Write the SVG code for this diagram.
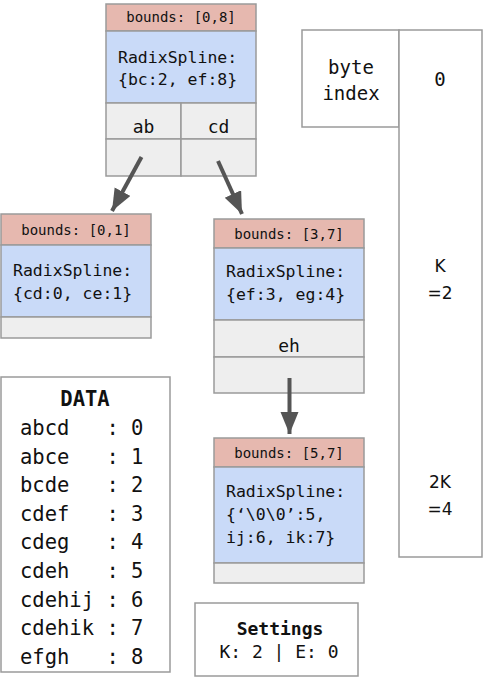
<svg xmlns="http://www.w3.org/2000/svg" width="484" height="678" viewBox="0 0 484 678">
<style>
rect{stroke:#9a9a9a;stroke-width:1.5}
.hd{fill:#e6b8af}
.bl{fill:#c9daf8}
.gr{fill:#eeeeee}
.wh{fill:#ffffff}
text{font-family:"DejaVu Sans Mono","Liberation Mono",monospace;fill:#111}
.sm{font-size:14px}
.md{font-size:16.5px}
.lg{font-size:18px}
.dt{font-size:20.5px}
.ss{font-family:"DejaVu Sans","Liberation Sans",sans-serif;font-size:17px}
.c{text-anchor:middle}
.b{font-weight:bold}
.conn{stroke:#555;stroke-width:4;fill:none}
</style>
<defs>
<marker id="ah" markerUnits="userSpaceOnUse" markerWidth="24" markerHeight="20" refX="22" refY="9" orient="auto">
<path d="M0,0 L22,9 L0,18 Z" fill="#555"/>
</marker>
</defs>
<rect width="484" height="678" fill="#fff" style="stroke:none"/>

<g id="node-root">
<rect class="hd" x="106" y="4" width="150" height="27"/>
<rect class="bl" x="106" y="31" width="150" height="72"/>
<rect class="gr" x="106" y="103" width="75" height="36"/>
<rect class="gr" x="181" y="103" width="75" height="36"/>
<rect class="gr" x="106" y="139" width="75" height="37"/>
<rect class="gr" x="181" y="139" width="75" height="37"/>
<text class="sm c" x="181" y="22">bounds: [0,8]</text>
<text class="md" x="118" y="63">RadixSpline:</text>
<text class="md" x="118" y="85">{bc:2, ef:8}</text>
<text class="lg c" x="143.5" y="133">ab</text>
<text class="lg c" x="218.5" y="133">cd</text>
</g>

<g id="node-left">
<rect class="hd" x="1" y="214" width="150" height="31"/>
<rect class="bl" x="1" y="245" width="150" height="72"/>
<rect class="gr" x="1" y="317" width="150" height="21"/>
<text class="sm c" x="76" y="235">bounds: [0,1]</text>
<text class="md" x="13" y="276">RadixSpline:</text>
<text class="md" x="13" y="299">{cd:0, ce:1}</text>
</g>

<g id="node-mid">
<rect class="hd" x="214" y="219" width="150" height="29"/>
<rect class="bl" x="214" y="248" width="150" height="72"/>
<rect class="gr" x="214" y="320" width="150" height="37"/>
<rect class="gr" x="214" y="357" width="150" height="36"/>
<text class="sm c" x="289" y="239">bounds: [3,7]</text>
<text class="md" x="226" y="277">RadixSpline:</text>
<text class="md" x="226" y="300">{ef:3, eg:4}</text>
<text class="lg c" x="289" y="352">eh</text>
</g>

<g id="node-leaf">
<rect class="hd" x="214" y="438" width="150" height="29"/>
<rect class="bl" x="214" y="467" width="150" height="96"/>
<rect class="gr" x="214" y="563" width="150" height="20"/>
<text class="sm c" x="289" y="458">bounds: [5,7]</text>
<text class="md" x="226" y="497">RadixSpline:</text>
<text class="md" x="226" y="520">{‘\0\0’:5,</text>
<text class="md" x="226" y="543">ij:6, ik:7}</text>
</g>

<g id="data">
<rect class="wh" x="1" y="377" width="169" height="295"/>
<text class="dt c b" x="85" y="406">DATA</text>
<text class="dt" x="20" y="435" xml:space="preserve">abcd   : 0</text>
<text class="dt" x="20" y="463.6" xml:space="preserve">abce   : 1</text>
<text class="dt" x="20" y="492.2" xml:space="preserve">bcde   : 2</text>
<text class="dt" x="20" y="520.8" xml:space="preserve">cdef   : 3</text>
<text class="dt" x="20" y="549.4" xml:space="preserve">cdeg   : 4</text>
<text class="dt" x="20" y="578" xml:space="preserve">cdeh   : 5</text>
<text class="dt" x="20" y="606.6" xml:space="preserve">cdehij : 6</text>
<text class="dt" x="20" y="635.2" xml:space="preserve">cdehik : 7</text>
<text class="dt" x="20" y="663.8" xml:space="preserve">efgh   : 8</text>
</g>

<g id="settings">
<rect class="wh" x="195" y="603" width="163" height="73"/>
<text class="lg c b" x="280" y="635">Settings</text>
<text class="lg c" x="279" y="658">K: 2 | E: 0</text>
</g>

<g id="byte-index">
<rect class="wh" x="302" y="30" width="97" height="97"/>
<text class="dt c" x="351" y="74" style="font-size:19px">byte</text>
<text class="dt c" x="351" y="100" style="font-size:19px">index</text>
</g>

<g id="byte-column">
<rect class="wh" x="399" y="30" width="83" height="527"/>
<text class="dt c" x="440" y="86" style="font-size:19px">0</text>
<text class="ss c" x="440" y="272">K</text>
<text class="ss c" x="440" y="299">=2</text>
<text class="ss c" x="440" y="488">2K</text>
<text class="ss c" x="440" y="515">=4</text>
</g>

<g id="connectors">
<line class="conn" x1="141.5" y1="157" x2="112" y2="211" marker-end="url(#ah)"/>
<line class="conn" x1="218" y1="161" x2="242" y2="214" marker-end="url(#ah)"/>
<line class="conn" x1="289.5" y1="378" x2="289.5" y2="434" marker-end="url(#ah)"/>
</g>
</svg>
